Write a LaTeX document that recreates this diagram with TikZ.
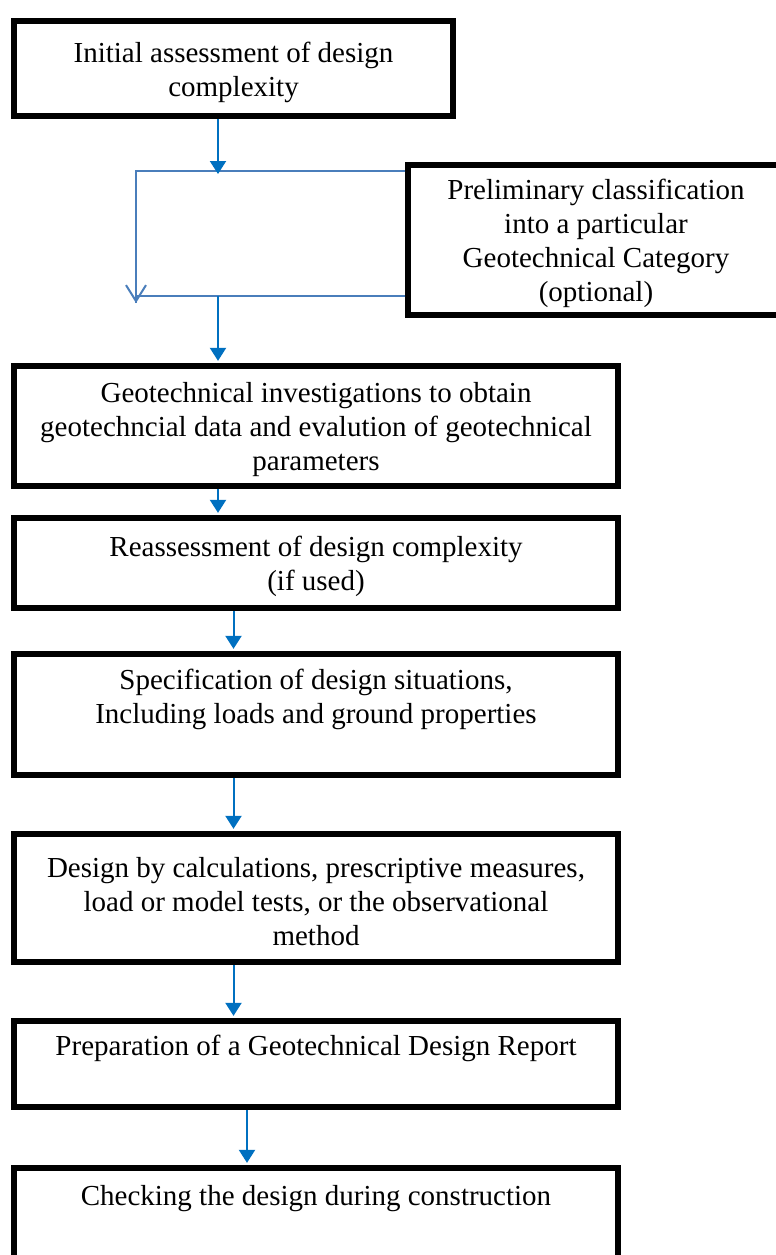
\documentclass[tikz,border=0pt]{standalone}
\usepackage{fontspec}
\setmainfont{Liberation Serif}
\usepackage{tikz}
\definecolor{flowblue}{HTML}{0070C0}
\definecolor{loopblue}{HTML}{4A7EBB}
\usetikzlibrary{positioning, arrows.meta}
\tikzstyle{arrow} = [line width=1pt, flowblue, -{Triangle[width=8pt,length=6.5pt]}, shorten >=1.2pt]
\newcommand{\topgap}{\rule{0pt}{14pt}}

\begin{document}
\begin{tikzpicture}[x=0.5pt, y=-0.5pt]
                \tikzstyle{every node}=[font=\fontsize{14.5}{17}\selectfont]
                \tikzstyle{stepbox} = [rectangle, draw=black, line width=2.75pt, align=center, inner sep=0pt, minimum width=302pt]
                \tikzstyle{loopline} = [line width=1pt, loopblue]

                \useasboundingbox (0,0) rectangle (776,1255);

                \node[stepbox, minimum width=219.5pt, minimum height=47.5pt](init) at (233.5,68.5) {\topgap Initial assessment of design\\complexity};
                \node[stepbox, minimum width=188pt, minimum height=75pt](prelim) at (596,240) {\topgap Preliminary classification\\into a particular\\Geotechnical Category\\(optional)};
                \node[stepbox, minimum height=60pt](geo) at (316,426) {\topgap Geotechnical investigations to obtain\\geotechncial data and evalution of geotechnical\\parameters};
                \node[stepbox, minimum height=45pt](reassess) at (316,563) {\topgap Reassessment of design complexity\\(if used)};
                \node[stepbox, minimum height=60.5pt](spec) at (316,714.5) {\topgap Specification of design situations,\\Including loads and ground properties\\\strut};
                \node[stepbox, minimum height=64pt](design) at (316,898) {\topgap Design by calculations, prescriptive measures,\\load or model tests, or the observational\\method};
                \node[stepbox, minimum height=43pt](prep) at (316,1064) {\topgap Preparation of a Geotechnical Design Report\\\strut};
                \node[stepbox, minimum height=46pt](check) at (316,1214) {\topgap Checking the design during construction\\\strut};

                % junction points of the optional loop
                \coordinate (splitN) at (218,171);
                \coordinate (splitS) at (218,296);
                \coordinate (loopN) at (136,171);
                \coordinate (loopS) at (136,296);
                \coordinate (loopEnd) at (136,303);
                \coordinate (colA) at (233.5,0);
                \coordinate (colB) at (247,0);

                \draw[loopline] (prelim.west |- splitN) -- (loopN) -- (loopEnd);
                \draw[loopline, -{Straight Barb[width=10pt,length=8pt]}] (loopN) -- (loopEnd);
                \draw[loopline] (prelim.west |- splitS) -- (loopS);
                \draw[arrow, shorten >=-1.5pt] (init.south -| splitN) -- (splitN);

                \draw[arrow] (splitS) -- (splitS |- geo.north);
                \draw[arrow] (geo.south -| splitS) -- (reassess.north -| splitS);
                \draw[arrow] (reassess.south -| colA) -- (spec.north -| colA);
                \draw[arrow] (spec.south -| colA) -- (design.north -| colA);
                \draw[arrow] (design.south -| colA) -- (prep.north -| colA);
                \draw[arrow] (prep.south -| colB) -- (check.north -| colB);

\end{tikzpicture}
\end{document}
